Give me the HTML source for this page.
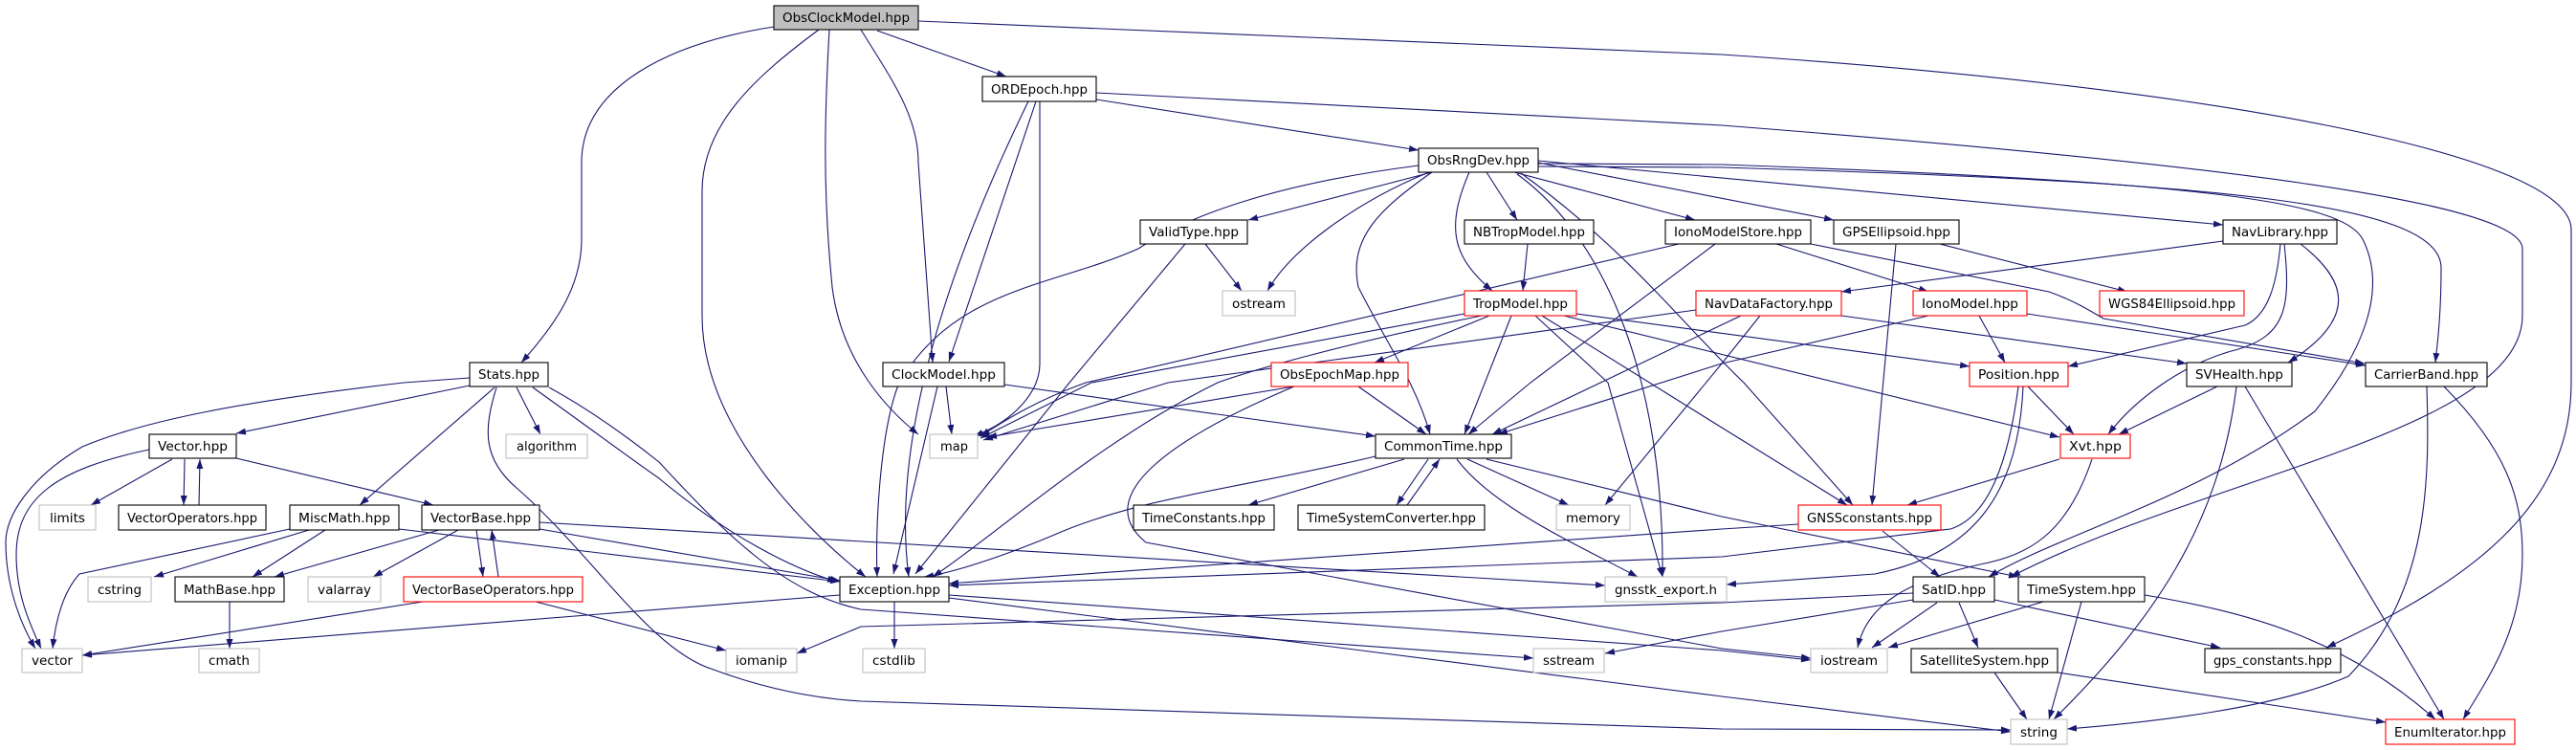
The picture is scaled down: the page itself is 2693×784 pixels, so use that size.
<!DOCTYPE html>
<html><head><meta charset="utf-8"><style>
html,body{margin:0;padding:0;background:#fff;}
svg{display:block;}
text{font-family:"DejaVu Sans","Liberation Sans",sans-serif;font-size:13px;fill:#000;}
.e{fill:none;stroke:#191970;stroke-width:1.1;marker-end:url(#a);}
.n{fill:#fff;stroke:#000;stroke-width:1.1;}
.g{fill:#fff;stroke:#bfbfbf;stroke-width:1.1;}
.r{fill:#fff;stroke:#ff0000;stroke-width:1.1;}
</style></head><body>
<svg width="2693" height="784" viewBox="0 0 2693 784" xmlns="http://www.w3.org/2000/svg">
<defs><marker id="a" markerUnits="userSpaceOnUse" markerWidth="11" markerHeight="8" refX="10" refY="3.5" orient="auto"><path d="M0,0 L10,3.5 L0,7 z" fill="#191970"/></marker></defs>
<g>
<!-- ObsClockModel -->
<path class="e" d="M809,28 C700,45 608,90 608,170 L608,250 C608,300 580,340 545,379"/>
<path class="e" d="M856,31 C790,80 734,130 734,200 L734,330 C734,450 850,560 905,603"/>
<path class="e" d="M867,31 C862,120 860,200 870,300 C880,380 930,430 960,454"/>
<path class="e" d="M900,31 C930,80 960,120 960,170 L975,379"/>
<path class="e" d="M917,32 L1052,80"/>
<path class="e" d="M960,22 L1800,57 C2300,90 2688,160 2688,240 L2688,400 C2688,520 2600,600 2432,677"/>
<!-- ORDEpoch -->
<path class="e" d="M1083,106 L992,378"/>
<path class="e" d="M1075,106 C1000,260 930,450 950,603"/>
<path class="e" d="M1087,106 L1087,380 C1087,410 1060,440 1018,456"/>
<path class="e" d="M1146,104 L1483,157"/>
<path class="e" d="M1146,97 L1800,131 C2300,170 2637,210 2637,260 L2637,330 C2637,450 2300,500 2102,603"/>
<!-- ObsRngDev -->
<path class="e" d="M1483,173 C1350,190 1250,220 1190,260 C1100,300 1000,300 940,400 C920,450 915,550 917,603"/>
<path class="e" d="M1497,180 L1305,230"/>
<path class="e" d="M1494,180 C1420,210 1350,260 1325,304"/>
<path class="e" d="M1497,180 C1440,220 1410,250 1420,300 C1450,360 1480,400 1495,454"/>
<path class="e" d="M1536,180 C1510,240 1520,270 1560,304"/>
<path class="e" d="M1554,180 L1586,230"/>
<path class="e" d="M1583,180 L1772,230"/>
<path class="e" d="M1586,182 C1680,250 1740,400 1738,603"/>
<path class="e" d="M1608,170 L1917,230"/>
<path class="e" d="M1608,168 L2324,235"/>
<path class="e" d="M1608,174 L1800,175 C2300,190 2552,210 2552,280 C2552,330 2548,360 2546,379"/>
<path class="e" d="M1608,171 L1800,172 C2300,190 2449,210 2470,250 C2500,310 2460,380 2420,430 C2300,520 2150,560 2079,603"/>
<path class="e" d="M1590,181 C1700,260 1760,340 1823,400 L1937,528"/>
<path class="e" d="M1597,255 L1592,304"/>
<!-- ValidType -->
<path class="e" d="M1260,255 L1298,304"/>
<path class="e" d="M1239,255 L1118,400 L957,600"/>
<!-- IonoModelStore -->
<path class="e" d="M1755,255 L1135,400 C1080,420 1050,440 1025,456"/>
<path class="e" d="M1793,255 L1600,400 L1535,454"/>
<path class="e" d="M1857,255 L2016,305"/>
<path class="e" d="M1893,255 L2142,305 C2170,315 2185,325 2199,333 L2472,380"/>
<!-- GPSEllipsoid -->
<path class="e" d="M2028,255 L2224,305"/>
<path class="e" d="M1982,255 L1957,528"/>
<!-- NavLibrary -->
<path class="e" d="M2324,252 L1925,305"/>
<path class="e" d="M2384,255 C2380,300 2370,330 2347,340 L2162,383"/>
<path class="e" d="M2388,255 C2395,320 2390,350 2340,365 C2280,380 2230,420 2204,454"/>
<path class="e" d="M2405,255 C2450,290 2470,330 2392,379"/>
<!-- TropModel -->
<path class="e" d="M1557,330 L1437,379"/>
<path class="e" d="M1531,328 L1141,400 L1025,458"/>
<path class="e" d="M1549,330 C1400,360 1300,390 1273,400 C1150,460 1040,560 975,603"/>
<path class="e" d="M1605,330 L1681,400 L1738,603"/>
<path class="e" d="M1612,330 L1800,447 L1931,528"/>
<path class="e" d="M1635,330 L2153,457"/>
<path class="e" d="M1648,328 L2059,383"/>
<path class="e" d="M1580,330 L1531,454"/>
<!-- NavDataFactory -->
<path class="e" d="M1773,324 L1221,400 L1028,460"/>
<path class="e" d="M1820,330 L1560,454"/>
<path class="e" d="M1840,330 L1800,380 L1678,528"/>
<path class="e" d="M1925,330 L2286,380"/>
<!-- IonoModel -->
<path class="e" d="M2069,330 L2096,379"/>
<path class="e" d="M2016,330 L1800,380 L1566,454"/>
<path class="e" d="M2119,328 L2473,382"/>
<!-- ClockModel -->
<path class="e" d="M980,404 L934,600"/>
<path class="e" d="M989,404 L995,454"/>
<path class="e" d="M1050,402 L1438,456"/>
<!-- ObsEpochMap -->
<path class="e" d="M1353,404 L1032,457"/>
<path class="e" d="M1420,404 L1491,454"/>
<path class="e" d="M1353,404 C1220,460 1140,520 1198,567 L1800,678 L1893,688"/>
<!-- Position -->
<path class="e" d="M2120,404 L2168,454"/>
<path class="e" d="M2110,404 C2100,480 2080,540 2039,553 L1800,582 L992,612"/>
<path class="e" d="M2115,404 C2110,520 2060,580 1960,600 L1805,611"/>
<!-- SVHealth -->
<path class="e" d="M2318,404 L2215,454"/>
<path class="e" d="M2338,404 C2320,550 2250,650 2147,752"/>
<path class="e" d="M2347,404 L2555,752"/>
<!-- CarrierBand -->
<path class="e" d="M2537,404 C2540,500 2540,620 2455,707 C2380,740 2250,755 2161,762"/>
<path class="e" d="M2555,404 C2620,470 2637,520 2637,580 C2637,660 2600,710 2575,752"/>
<!-- Xvt -->
<path class="e" d="M2153,480 L1994,528"/>
<path class="e" d="M2187,480 C2160,560 2120,580 2070,590 C1980,610 1950,640 1942,677"/>
<!-- GNSSconstants -->
<path class="e" d="M1968,555 L2028,603"/>
<path class="e" d="M1880,548 L1800,553 L992,610"/>
<!-- SatID -->
<path class="e" d="M2025,630 L1957,677"/>
<path class="e" d="M2048,630 L2068,677"/>
<path class="e" d="M2085,627 L2321,677"/>
<path class="e" d="M2000,627 L1800,660 L1678,683"/>
<path class="e" d="M2000,620 L1800,630 L900,655 L833,683"/>
<!-- TimeSystem -->
<path class="e" d="M2242,622 C2350,640 2450,667 2546,752"/>
<path class="e" d="M2136,629 L1974,677"/>
<path class="e" d="M2176,629 L2142,752"/>
<!-- SatelliteSystem -->
<path class="e" d="M2085,703 L2119,752"/>
<path class="e" d="M2151,703 L2494,755"/>
<!-- CommonTime -->
<path class="e" d="M1438,477 C1300,510 1190,520 1100,560 C1040,585 990,600 966,603"/>
<path class="e" d="M1468,480 L1305,528"/>
<path class="e" d="M1493,480 L1460,528"/>
<path class="e" d="M1471,528 L1505,480"/>
<path class="e" d="M1534,480 L1640,528"/>
<path class="e" d="M1523,480 C1560,530 1650,570 1712,603"/>
<path class="e" d="M1554,480 L1800,540 L2110,603"/>
<!-- Exception -->
<path class="e" d="M935,629 L935,678"/>
<path class="e" d="M878,622 L86,685"/>
<path class="e" d="M992,622 L1800,680 L1893,690"/>
<path class="e" d="M992,625 L1800,728 L2102,765"/>
<!-- Stats -->
<path class="e" d="M574,405 C620,430 660,460 689,483 C760,560 820,620 900,637 L1603,688"/>
<path class="e" d="M519,405 C505,450 505,480 540,510 C620,580 680,680 746,700 C800,720 850,730 900,733 L1800,762 L2102,763"/>
<path class="e" d="M491,395 L422,400 C250,420 150,440 86,467 C30,500 6,540 6,567 C6,610 20,650 37,678"/>
<path class="e" d="M491,403 L247,453"/>
<path class="e" d="M540,405 L565,454"/>
<path class="e" d="M517,405 L376,528"/>
<path class="e" d="M557,405 C620,450 660,480 689,500 C760,560 830,595 875,608"/>
<!-- Vector -->
<path class="e" d="M156,470 C60,490 17,520 17,580 C17,620 30,650 43,678"/>
<path class="e" d="M180,480 L95,528"/>
<path class="e" d="M193,480 L192,528"/>
<path class="e" d="M208,528 L209,480"/>
<path class="e" d="M247,479 L453,528"/>
<!-- MiscMath -->
<path class="e" d="M303,553 L83,600 C65,620 58,650 55,678"/>
<path class="e" d="M323,554 L161,603"/>
<path class="e" d="M340,554 L264,603"/>
<path class="e" d="M417,553 L878,608"/>
<!-- VectorBase -->
<path class="e" d="M459,554 L287,603"/>
<path class="e" d="M479,554 L390,603"/>
<path class="e" d="M498,554 L505,603"/>
<path class="e" d="M521,603 L514,554"/>
<path class="e" d="M564,553 L878,607"/>
<path class="e" d="M564,546 L1678,612"/>
<!-- VectorBaseOperators / MathBase -->
<path class="e" d="M442,629 L86,685"/>
<path class="e" d="M560,629 L759,680"/>
<path class="e" d="M240,629 L240,678"/>
</g>
<g>
<rect x="809" y="6" width="151" height="25" fill="#bfbfbf" stroke="#000" stroke-width="1.1"/><text x="818" y="23" textLength="133" lengthAdjust="spacingAndGlyphs">ObsClockModel.hpp</text>
<rect class="n" x="1027" y="80" width="119" height="26"/><text x="1036" y="98" textLength="101" lengthAdjust="spacingAndGlyphs">ORDEpoch.hpp</text>
<rect class="n" x="1483" y="155" width="125" height="25"/><text x="1492" y="172" textLength="107" lengthAdjust="spacingAndGlyphs">ObsRngDev.hpp</text>
<rect class="n" x="1192" y="230" width="112" height="25"/><text x="1201" y="247" textLength="94" lengthAdjust="spacingAndGlyphs">ValidType.hpp</text>
<rect class="g" x="1278" y="304" width="76" height="26"/><text x="1288" y="322" textLength="56" lengthAdjust="spacingAndGlyphs">ostream</text>
<rect class="n" x="1531" y="230" width="135" height="25"/><text x="1540" y="247" textLength="117" lengthAdjust="spacingAndGlyphs">NBTropModel.hpp</text>
<rect class="n" x="1741" y="230" width="152" height="25"/><text x="1750" y="247" textLength="134" lengthAdjust="spacingAndGlyphs">IonoModelStore.hpp</text>
<rect class="n" x="1917" y="230" width="131" height="25"/><text x="1926" y="247" textLength="113" lengthAdjust="spacingAndGlyphs">GPSEllipsoid.hpp</text>
<rect class="n" x="2324" y="230" width="119" height="25"/><text x="2333" y="247" textLength="101" lengthAdjust="spacingAndGlyphs">NavLibrary.hpp</text>
<rect class="r" x="1531" y="304" width="117" height="26"/><text x="1540" y="322" textLength="99" lengthAdjust="spacingAndGlyphs">TropModel.hpp</text>
<rect class="r" x="1773" y="304" width="152" height="26"/><text x="1782" y="322" textLength="134" lengthAdjust="spacingAndGlyphs">NavDataFactory.hpp</text>
<rect class="r" x="2000" y="304" width="119" height="26"/><text x="2009" y="322" textLength="101" lengthAdjust="spacingAndGlyphs">IonoModel.hpp</text>
<rect class="r" x="2195" y="304" width="151" height="26"/><text x="2204" y="322" textLength="133" lengthAdjust="spacingAndGlyphs">WGS84Ellipsoid.hpp</text>
<rect class="n" x="491" y="379" width="82" height="25"/><text x="500" y="396" textLength="64" lengthAdjust="spacingAndGlyphs">Stats.hpp</text>
<rect class="n" x="923" y="379" width="127" height="25"/><text x="932" y="396" textLength="109" lengthAdjust="spacingAndGlyphs">ClockModel.hpp</text>
<rect class="r" x="1329" y="379" width="143" height="25"/><text x="1338" y="396" textLength="125" lengthAdjust="spacingAndGlyphs">ObsEpochMap.hpp</text>
<rect class="r" x="2059" y="379" width="103" height="25"/><text x="2068" y="396" textLength="85" lengthAdjust="spacingAndGlyphs">Position.hpp</text>
<rect class="n" x="2286" y="379" width="110" height="25"/><text x="2295" y="396" textLength="92" lengthAdjust="spacingAndGlyphs">SVHealth.hpp</text>
<rect class="n" x="2473" y="379" width="127" height="25"/><text x="2482" y="396" textLength="109" lengthAdjust="spacingAndGlyphs">CarrierBand.hpp</text>
<rect class="n" x="156" y="454" width="91" height="25"/><text x="165" y="471" textLength="73" lengthAdjust="spacingAndGlyphs">Vector.hpp</text>
<rect class="g" x="529" y="454" width="85" height="25"/><text x="540" y="471" textLength="63" lengthAdjust="spacingAndGlyphs">algorithm</text>
<rect class="g" x="972" y="454" width="50" height="25"/><text x="983" y="471" textLength="29" lengthAdjust="spacingAndGlyphs">map</text>
<rect class="n" x="1438" y="454" width="142" height="25"/><text x="1447" y="471" textLength="124" lengthAdjust="spacingAndGlyphs">CommonTime.hpp</text>
<rect class="r" x="2154" y="454" width="73" height="25"/><text x="2163" y="471" textLength="55" lengthAdjust="spacingAndGlyphs">Xvt.hpp</text>
<rect class="g" x="41" y="528" width="59" height="26"/><text x="52" y="546" textLength="37" lengthAdjust="spacingAndGlyphs">limits</text>
<rect class="n" x="124" y="528" width="154" height="26"/><text x="133" y="546" textLength="136" lengthAdjust="spacingAndGlyphs">VectorOperators.hpp</text>
<rect class="n" x="303" y="528" width="114" height="26"/><text x="312" y="546" textLength="96" lengthAdjust="spacingAndGlyphs">MiscMath.hpp</text>
<rect class="n" x="441" y="528" width="123" height="26"/><text x="450" y="546" textLength="105" lengthAdjust="spacingAndGlyphs">VectorBase.hpp</text>
<rect class="n" x="1185" y="528" width="147" height="26"/><text x="1194" y="546" textLength="129" lengthAdjust="spacingAndGlyphs">TimeConstants.hpp</text>
<rect class="n" x="1357" y="528" width="195" height="26"/><text x="1366" y="546" textLength="177" lengthAdjust="spacingAndGlyphs">TimeSystemConverter.hpp</text>
<rect class="g" x="1627" y="528" width="77" height="26"/><text x="1637" y="546" textLength="57" lengthAdjust="spacingAndGlyphs">memory</text>
<rect class="r" x="1880" y="528" width="149" height="26"/><text x="1889" y="546" textLength="131" lengthAdjust="spacingAndGlyphs">GNSSconstants.hpp</text>
<rect class="g" x="92" y="603" width="66" height="26"/><text x="102" y="621" textLength="46" lengthAdjust="spacingAndGlyphs">cstring</text>
<rect class="n" x="183" y="603" width="114" height="26"/><text x="192" y="621" textLength="96" lengthAdjust="spacingAndGlyphs">MathBase.hpp</text>
<rect class="g" x="322" y="603" width="76" height="26"/><text x="332" y="621" textLength="56" lengthAdjust="spacingAndGlyphs">valarray</text>
<rect class="r" x="422" y="603" width="187" height="26"/><text x="431" y="621" textLength="169" lengthAdjust="spacingAndGlyphs">VectorBaseOperators.hpp</text>
<rect class="n" x="878" y="603" width="114" height="26"/><text x="887" y="621" textLength="96" lengthAdjust="spacingAndGlyphs">Exception.hpp</text>
<rect class="g" x="1678" y="603" width="127" height="26"/><text x="1688" y="621" textLength="107" lengthAdjust="spacingAndGlyphs">gnsstk_export.h</text>
<rect class="n" x="2000" y="603" width="85" height="26"/><text x="2009" y="621" textLength="67" lengthAdjust="spacingAndGlyphs">SatID.hpp</text>
<rect class="n" x="2110" y="603" width="132" height="26"/><text x="2119" y="621" textLength="114" lengthAdjust="spacingAndGlyphs">TimeSystem.hpp</text>
<rect class="g" x="23" y="678" width="63" height="25"/><text x="33" y="695" textLength="43" lengthAdjust="spacingAndGlyphs">vector</text>
<rect class="g" x="208" y="678" width="63" height="25"/><text x="218" y="695" textLength="43" lengthAdjust="spacingAndGlyphs">cmath</text>
<rect class="g" x="759" y="678" width="74" height="25"/><text x="769" y="695" textLength="54" lengthAdjust="spacingAndGlyphs">iomanip</text>
<rect class="g" x="902" y="678" width="65" height="25"/><text x="912" y="695" textLength="45" lengthAdjust="spacingAndGlyphs">cstdlib</text>
<rect class="g" x="1603" y="678" width="74" height="25"/><text x="1613" y="695" textLength="54" lengthAdjust="spacingAndGlyphs">sstream</text>
<rect class="g" x="1893" y="678" width="80" height="25"/><text x="1903" y="695" textLength="60" lengthAdjust="spacingAndGlyphs">iostream</text>
<rect class="n" x="1998" y="678" width="153" height="25"/><text x="2007" y="695" textLength="135" lengthAdjust="spacingAndGlyphs">SatelliteSystem.hpp</text>
<rect class="n" x="2305" y="678" width="142" height="25"/><text x="2314" y="695" textLength="124" lengthAdjust="spacingAndGlyphs">gps_constants.hpp</text>
<rect class="g" x="2102" y="752" width="59" height="26"/><text x="2112" y="770" textLength="39" lengthAdjust="spacingAndGlyphs">string</text>
<rect class="r" x="2494" y="752" width="135" height="26"/><text x="2503" y="770" textLength="117" lengthAdjust="spacingAndGlyphs">EnumIterator.hpp</text>
</g>
</svg>
</body></html>
